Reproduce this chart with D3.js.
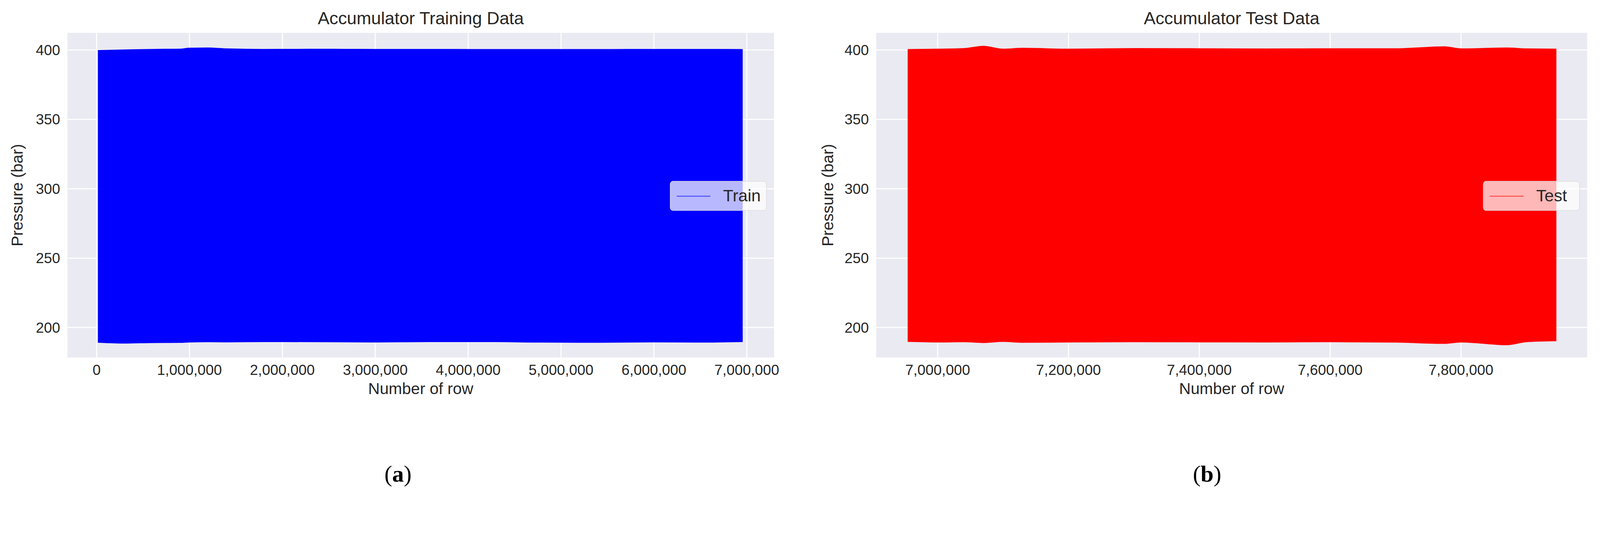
<!DOCTYPE html>
<html><head><meta charset="utf-8">
<script src="https://cdn.jsdelivr.net/npm/d3@7"></script>
<style>html,body{margin:0;background:#fff;overflow:hidden}svg{display:block;font-family:Arial,"Liberation Sans",sans-serif}</style>
</head><body>
<script>
let W = 4390, H = 1371

// training envelope (row, upper, lower)
let trainRows  = [20000, 300000, 600000, 900000, 1000000, 1200000, 1400000, 1800000, 2400000, 3000000, 3600000, 4200000, 4800000, 5400000, 6000000, 6500000, 6950000]
let trainUpper = [399.6, 400.0, 400.4, 400.6, 401.3, 401.4, 400.8, 400.4, 400.5, 400.4, 400.4, 400.3, 400.3, 400.3, 400.4, 400.4, 400.3]
let trainLower = [189.4, 188.8, 189.2, 189.3, 189.6, 189.8, 189.7, 189.9, 189.8, 189.6, 189.9, 189.9, 189.5, 189.4, 189.7, 189.5, 189.9]

let testRows  = [6955000, 7000000, 7040000, 7070000, 7100000, 7130000, 7200000, 7300000, 7400000, 7500000, 7600000, 7700000, 7775000, 7800000, 7870000, 7900000, 7945000]
let testUpper = [400.3, 400.6, 401.0, 402.6, 400.6, 401.2, 400.6, 401.0, 400.9, 400.7, 400.9, 400.9, 402.3, 400.8, 401.4, 400.8, 400.6]
let testLower = [190.0, 189.6, 189.8, 189.2, 190.0, 189.4, 189.6, 189.8, 189.7, 189.6, 189.8, 189.5, 188.6, 189.6, 187.6, 189.8, 190.5]

let yTicks = [200, 250, 300, 350, 400]
let trainTicks = [0, 1000000, 2000000, 3000000, 4000000, 5000000, 6000000, 7000000]
let testTicks = [7000000, 7200000, 7400000, 7600000, 7800000]

let panels = [
  {title: "Accumulator Training Data", left: 185, right: 2124, xDom: [-314000, 7294000], rows: trainRows, up: trainUpper, lo: trainLower,
   ticks: trainTicks, color: "#0000ff", legendLine: "#5555ff", name: "Train", yLab: 48, cap: "a", capX: 1092},
  {title: "Accumulator Test Data", left: 2404, right: 4355, xDom: [6906000, 7993000], rows: testRows, up: testUpper, lo: testLower,
   ticks: testTicks, color: "#ff0000", legendLine: "#ff5555", name: "Test", yLab: 2272, cap: "b", capX: 3312}
]

let plotTop = 90, plotBottom = 980
let svg = d3.select("body").append("svg")
  .attr("viewBox", `0 0 ${W} ${H}`).attr("width", "100%").attr("preserveAspectRatio", "xMinYMin meet")
let fmt = d3.format(",")

panels.forEach(p => {
  let x = d3.scaleLinear().domain(p.xDom).range([p.left, p.right])
  let y = d3.scaleLinear().domain([178.4, 412.4]).range([plotBottom, plotTop])
  let g = svg.append("g")

  g.append("rect").attr("x", p.left).attr("y", plotTop).attr("width", p.right - p.left).attr("height", plotBottom - plotTop).attr("fill", "#eaeaf2")

  // grid
  g.selectAll(".gx").data(p.ticks).enter().append("line")
    .attr("x1", d => x(d)).attr("x2", d => x(d)).attr("y1", plotTop).attr("y2", plotBottom)
    .attr("stroke", "#fff").attr("stroke-width", 3)
  g.selectAll(".gy").data(yTicks).enter().append("line")
    .attr("x1", p.left).attr("x2", p.right).attr("y1", d => y(d)).attr("y2", d => y(d))
    .attr("stroke", "#fff").attr("stroke-width", 3)

  // signal envelope
  let idx = d3.range(p.rows.length)
  let area = d3.area().x(i => x(p.rows[i])).y0(i => y(p.lo[i])).y1(i => y(p.up[i])).curve(d3.curveMonotoneX)
  g.append("path").datum(idx).attr("d", area).attr("fill", p.color).attr("stroke", p.color).attr("stroke-width", 3)

  // tick labels
  g.selectAll(".tx").data(p.ticks).enter().append("text")
    .attr("x", d => x(d)).attr("y", 1028).attr("text-anchor", "middle")
    .attr("font-size", 40).attr("fill", "#262626").text(d => fmt(d))
  g.selectAll(".ty").data(yTicks).enter().append("text")
    .attr("x", p.left - 20).attr("y", d => y(d) + 14).attr("text-anchor", "end")
    .attr("font-size", 40).attr("fill", "#262626").text(d => d)

  g.append("text").attr("x", (p.left + p.right) / 2).attr("y", 1080).attr("text-anchor", "middle")
    .attr("font-size", 44).attr("fill", "#262626").text("Number of row")
  g.append("text").attr("transform", `translate(${p.yLab + 14},${(plotTop + plotBottom) / 2}) rotate(-90)`)
    .attr("text-anchor", "middle").attr("font-size", 44).attr("fill", "#262626").text("Pressure (bar)")
  g.append("text").attr("x", (p.left + p.right) / 2).attr("y", 66).attr("text-anchor", "middle")
    .attr("font-size", 48).attr("fill", "#262626").text(p.title)

  // legend
  let lw = 264, lx = p.right - 21 - lw, ly = 497
  g.append("rect").attr("x", lx).attr("y", ly).attr("width", lw).attr("height", 80).attr("rx", 8)
    .attr("fill", "rgba(255,255,255,0.72)").attr("stroke", "rgba(220,220,220,0.8)").attr("stroke-width", 2)
  g.append("line").attr("x1", lx + 18).attr("x2", lx + 110).attr("y1", ly + 41).attr("y2", ly + 41)
    .attr("stroke", p.legendLine).attr("stroke-width", 3)
  g.append("text").attr("x", lx + 145).attr("y", ly + 55).attr("font-size", 46).attr("fill", "#262626").text(p.name)

  // caption
  let c = g.append("text").attr("x", p.capX).attr("y", 1320).attr("text-anchor", "middle")
    .attr("font-family", "'Liberation Serif','DejaVu Serif',serif").attr("font-size", 64).attr("fill", "#000")
  c.append("tspan").text("(")
  c.append("tspan").attr("font-weight", "bold").text(p.cap)
  c.append("tspan").text(")")
})
</script>
</body></html>
